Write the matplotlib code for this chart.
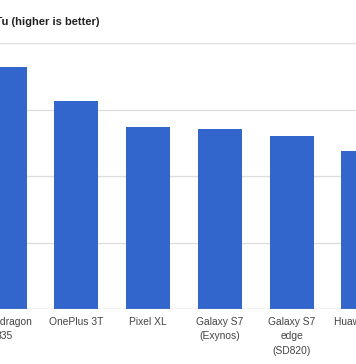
#!/usr/bin/env python3
"""AnTuTu scores per phone, Google-Charts style column chart (cropped view)."""

import matplotlib
matplotlib.use("Agg")
import matplotlib.pyplot as plt

phones = ["Snapdragon\n835", "OnePlus 3T", "Pixel XL", "Galaxy S7\n(Exynos)",
          "Galaxy S7\nedge\n(SD820)", "Huawei Mate\n9"]
scores = [182000, 156500, 137000, 135500, 130000, 119000]
y_ticks = [0, 50000, 100000, 150000, 200000]

BAR = "#3366cc"


def main():
    plt.rcParams["font.family"] = ["Liberation Sans", "DejaVu Sans"]
    fig = plt.figure(figsize=(3.56, 3.64), dpi=100)
    H = 364.0
    ax = fig.add_axes([0, (H - 309) / H, 1, (309 - 43) / H])

    x = list(range(len(phones)))
    ax.bar(x, scores, width=0.613, color=BAR, zorder=3)

    ax.set_ylim(0, y_ticks[-1])
    # the view is cropped: first and last columns run off the edges
    ax.set_xlim(-4.5 / 71.8, (356 - 4.5) / 71.8)
    for v in y_ticks[1:]:
        ax.axhline(v, color="#dddddd", lw=0.9, zorder=1)
    ax.axhline(0, color="#999999", lw=0.9, zorder=4)

    # category labels as annotations so the clipped last one still shows
    for i, lab in zip(x, phones):
        ax.annotate(lab, xy=(i, 0), xycoords=("data", "axes fraction"),
                    xytext=(0, -5.5), textcoords="offset points",
                    ha="center", va="top", fontsize=7.4, color="#444444",
                    linespacing=1.6, annotation_clip=False)
    ax.set_xticks([])
    ax.set_yticks([])
    for s in ax.spines.values():
        s.set_visible(False)

    fig.text(-31.6 / 356, 1 - 21.7 / H, "AnTuTu (higher is better)",
             fontsize=8, fontweight="bold", color="#222222", ha="left", va="center")

    fig.savefig("out.png", dpi=100)
    plt.close(fig)


if __name__ == "__main__":
    main()
